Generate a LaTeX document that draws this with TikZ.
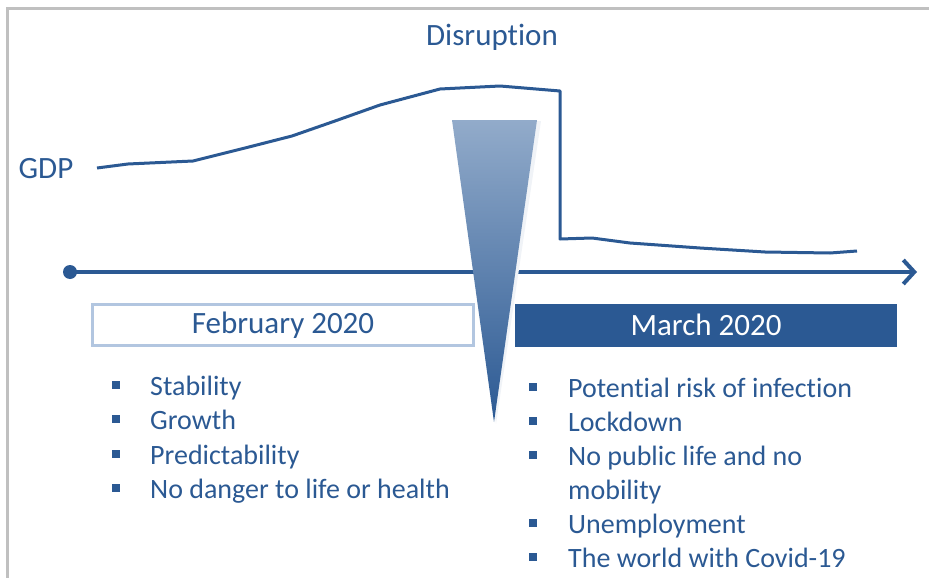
\documentclass[tikz,border=0pt]{standalone}
\usepackage{fontspec}
\setmainfont[Ligatures=NoCommon]{Carlito}
\usepackage{tikz}
\usetikzlibrary{arrows.meta}
\definecolor{gdpblue}{RGB}{43,89,147}
\definecolor{framegray}{RGB}{192,192,192}
\definecolor{lightframe}{RGB}{178,198,224}
\definecolor{funneltop}{RGB}{146,171,202}

\begin{document}
\begin{tikzpicture}[x=1pt,y=-1pt,
  title/.style={text=gdpblue,font=\fontsize{31}{37}\selectfont,anchor=base,inner sep=0pt},
  item/.style={text=gdpblue,font=\fontsize{28}{34}\selectfont,anchor=base west,inner sep=0pt},
  square/.style={fill=gdpblue,minimum size=7.5pt,inner sep=0pt},
  month/.style={font=\fontsize{31}{37}\selectfont,minimum width=381pt,minimum height=41pt,inner sep=0pt}]
 \useasboundingbox (0,0) rectangle (929,578);
 \draw[framegray,line width=3pt] (7,578) -- (7,9) -- (929,9);

 \draw (492,46) node[title] (disruption) {Disruption};
 \draw (46,178) node[title] (gdp) {GDP};

 \draw[gdpblue,line width=3pt,line join=round] (97,168) -- (128,164) -- (193,161) -- (245,148) -- (292,136)
   -- (335,121) -- (380,105) -- (440,89) -- (500,86) -- (560,91) -- (560,239) -- (592,238) -- (630,243)
   -- (700,248) -- (765,252) -- (830,253) -- (857,251);

 \draw (70,272) node[circle,fill=gdpblue,minimum size=14pt,inner sep=0pt] (start) {};
 \coordinate (end) at (917,272);
 \draw[gdpblue,line width=4pt,-{Straight Barb[length=11pt,width=24pt]}] (start.center) -- (end);

 \fill[gdpblue!7] (455,121) -- (541,121) -- (496,424) -- cycle;
 \shade[top color=funneltop,middle color=gdpblue!90!funneltop,bottom color=gdpblue] (452,120) -- (537,120) -- (494,422) -- cycle;

 \draw (283,325) node[month,draw=lightframe,line width=3pt,text=gdpblue] (feb) {February 2020};
 \draw (706,325) node[month,minimum width=382pt,minimum height=43pt,fill=gdpblue,text=white] (mar) {March 2020};

 \draw (116,385) node[square] (b1) {};
 \draw (150,395) node[item] (stability) {Stability};
 \draw (116,419) node[square] (b2) {};
 \draw (150,429) node[item] (growth) {Growth};
 \draw (116,454) node[square] (b3) {};
 \draw (150,464) node[item] (predict) {Predictability};
 \draw (116,488) node[square] (b4) {};
 \draw (150,498) node[item] (danger) {No danger to life or health};

 \draw (533,387) node[square] (b5) {};
 \draw (568,397) node[item] (risk) {Potential risk of infection};
 \draw (533,421) node[square] (b6) {};
 \draw (568,431) node[item] (lockdown) {Lockdown};
 \draw (533,455) node[square] (b7) {};
 \draw (568,465) node[item] (public) {No public life and no};
 \draw (568,499) node[item] (mobility) {mobility};
 \draw (533,523) node[square] (b8) {};
 \draw (568,533) node[item] (unemploy) {Unemployment};
 \draw (533,557) node[square] (b9) {};
 \draw (568,567) node[item] (covid) {The world with Covid-19};
\end{tikzpicture}
\end{document}
